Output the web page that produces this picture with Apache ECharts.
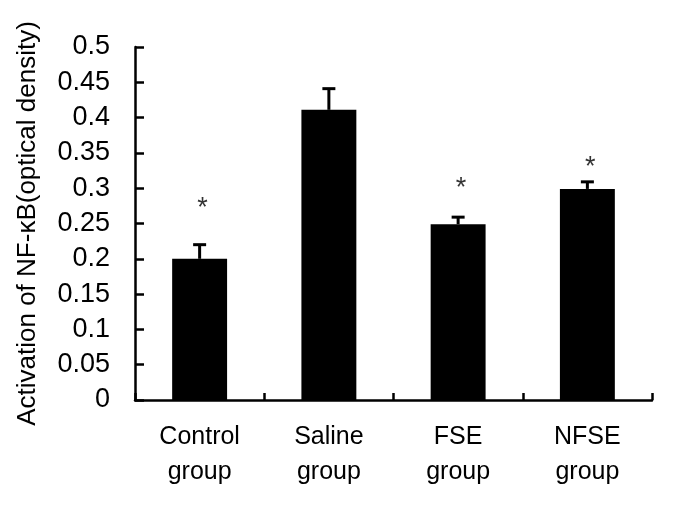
<!DOCTYPE html>
<html>
<head>
<meta charset="utf-8">
<script src="https://cdn.jsdelivr.net/npm/echarts@6/dist/echarts.min.js"></script>
<style>html,body{margin:0;padding:0;background:#fff;}#chart{width:685px;height:525px;}</style>
</head>
<body>
<div id="chart"></div>
<script>
const categories = ['Control\ngroup', 'Saline\ngroup', 'FSE\ngroup', 'NFSE\ngroup'];
const meanValues = [0.200, 0.411, 0.249, 0.299];
const errorTops = [0.220, 0.441, 0.259, 0.309];
const starValues = [0.278, null, 0.307, 0.336];
const yTickLabels = ['0', '0.05', '0.1', '0.15', '0.2', '0.25', '0.3', '0.35', '0.4', '0.45', '0.5'];
const yTitle = 'Activation of NF-\u03baB(optical density)';

const FONT = '"Liberation Sans", Arial, sans-serif';
const chart = echarts.init(document.getElementById('chart'));

const errData = meanValues.map((v, i) => [i, v, errorTops[i]]);
const starData = starValues.map((v, i) => v == null ? null : [i, v]).filter(d => d);

chart.setOption({
  animation: false,
  backgroundColor: '#fff',
  grid: { left: 135, right: 33, top: 47, bottom: 125, containLabel: false },
  xAxis: {
    type: 'category',
    data: categories,
    boundaryGap: true,
    axisLine: { lineStyle: { color: '#000', width: 2.5 } },
    axisTick: { show: true, inside: true, length: 7, lineStyle: { color: '#000', width: 2.5 } },
    axisLabel: { color: '#000', fontFamily: FONT, fontSize: 25, lineHeight: 35, margin: 20, interval: 0 },
    splitLine: { show: false }
  },
  yAxis: {
    type: 'value',
    min: 0, max: 0.5, interval: 0.05,
    name: yTitle,
    nameLocation: 'middle',
    nameGap: 94,
    nameRotate: 90,
    nameTextStyle: { color: '#000', fontFamily: FONT, fontSize: 26 },
    axisLine: { show: true, lineStyle: { color: '#000', width: 2.5 } },
    axisTick: { show: true, inside: true, length: 9, lineStyle: { color: '#000', width: 2.5 } },
    axisLabel: { color: '#000', fontFamily: FONT, fontSize: 27, margin: 25,
      formatter: (val, idx) => yTickLabels[idx] },
    splitLine: { show: false }
  },
  series: [
    {
      type: 'bar',
      data: meanValues,
      barWidth: '42.5%',
      itemStyle: { color: '#000' },
      z: 2
    },
    {
      type: 'custom',
      data: errData,
      z: 3,
      renderItem: function (params, api) {
        const x = api.value(0);
        const p0 = api.coord([x, api.value(1)]);
        const p1 = api.coord([x, api.value(2)]);
        const hw = 6.5;
        return {
          type: 'group',
          children: [
            { type: 'line', shape: { x1: p0[0], y1: p0[1], x2: p1[0], y2: p1[1] }, style: { stroke: '#000', lineWidth: 3 } },
            { type: 'line', shape: { x1: p1[0] - hw, y1: p1[1], x2: p1[0] + hw, y2: p1[1] }, style: { stroke: '#000', lineWidth: 3 } }
          ]
        };
      }
    },
    {
      type: 'scatter',
      data: starData,
      symbol: 'circle',
      symbolSize: 2,
      itemStyle: { color: 'rgba(0,0,0,0)' },
      label: {
        show: true, position: 'inside', formatter: '*',
        color: '#000', fontFamily: FONT, fontSize: 27, offset: [3, 5]
      },
      z: 4
    }
  ]
});
</script>
</body>
</html>
